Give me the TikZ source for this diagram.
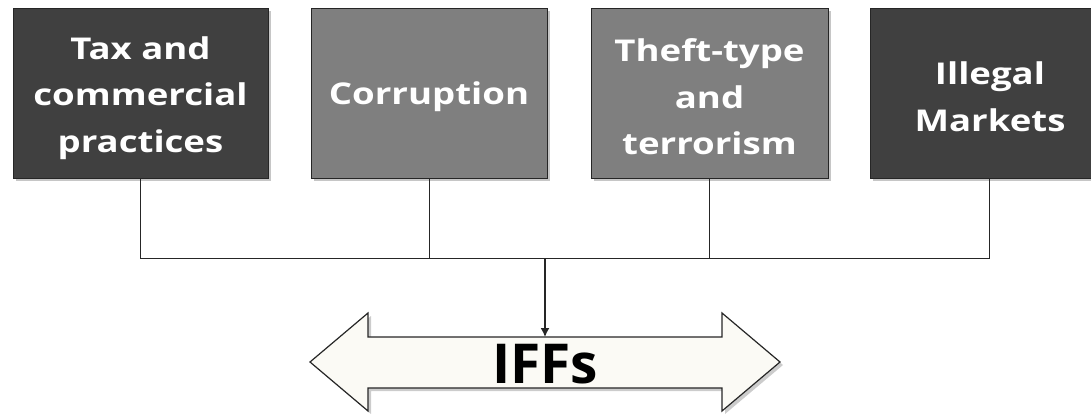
\documentclass[tikz,border=0pt]{standalone}
\usepackage{fontspec}
\setmainfont{Open Sans}
\newfontfamily\boxfont[FakeStretch=1.22]{Open Sans}
\usetikzlibrary{shadows,arrows.meta}
\definecolor{darkbox}{HTML}{404040}
\definecolor{midbox}{HTML}{7F7F7F}
\definecolor{cream}{HTML}{FBFAF5}
\tikzset{
  catbox/.style={draw=black!85, line width=0.8pt,
    minimum height=170, inner sep=0pt,
    drop shadow={opacity=0.45, shadow xshift=3pt, shadow yshift=-3pt}},
  cattext/.style={text=white, align=center, inner sep=0pt,
    font=\boxfont\fontsize{30}{46.5}\selectfont\bfseries},
  link/.style={draw=black!85, line width=1pt}
}
\begin{document}
\begin{tikzpicture}[x=1pt,y=-1pt]
\useasboundingbox (0,0) rectangle (1091,414);
\node[catbox, fill=darkbox, minimum width=255] (b1) at (140.5,93) {};
\node[catbox, fill=midbox, minimum width=236] (b2) at (429,93) {};
\node[catbox, fill=midbox, minimum width=237] (b3) at (709.5,93) {};
\node[catbox, fill=darkbox, minimum width=238] (b4) at (989,93) {};
\node[cattext] (t1) at ([yshift=-5pt]b1.center) {Tax and\\commercial\\practices};
\node[cattext] (t2) at ([yshift=-4pt]b2.center) {Corruption};
\node[cattext] (t3) at ([yshift=-4pt]b3.center) {Theft-type\\and\\terrorism};
\node[cattext] (t4) at ([yshift=-4pt,xshift=1pt]b4.center) {Illegal\\Markets};
\coordinate (j) at (545,258);
\coordinate (atop) at (545,337);
\draw[link] (b1.south) -- (b1.south |- j) -- (b4.south |- j) -- (b4.south);
\draw[link] (b2.south) -- (b2.south |- j);
\draw[link] (b3.south) -- (b3.south |- j);
\path[fill=cream, draw=black!85, line width=1.2pt,
  drop shadow={opacity=0.4, shadow xshift=3pt, shadow yshift=-3pt}]
  (310,362) -- (368,313) -- (368,337) -- (722,337) -- (722,313) -- (780,362)
  -- (722,411) -- (722,388) -- (368,388) -- (368,411) -- cycle;
\draw[link, line width=1.5pt, -{Latex[length=9pt,width=9pt]}] (j) -- (atop);
\node[font=\fontsize{55}{60}\selectfont\bfseries, inner sep=0pt] (iff) at (545,364) {IFFs};
\end{tikzpicture}
\end{document}
